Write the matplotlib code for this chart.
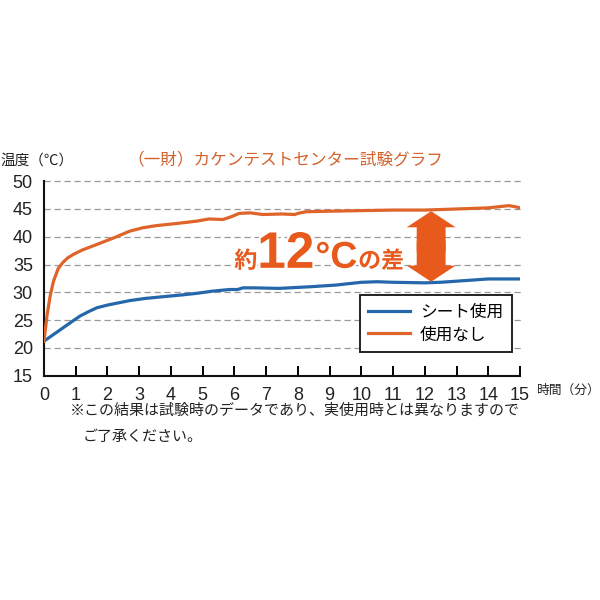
import matplotlib.pyplot as plt
import matplotlib.patheffects as pe
from matplotlib.patches import FancyArrow

plt.rcParams['font.family'] = ['Noto Sans CJK JP', 'DejaVu Sans']

# 使用なし (orange)
t_nashi = [0, 0.1, 0.2, 0.3, 0.45, 0.6, 0.75, 0.92, 1.2, 1.66, 2.2, 2.7, 3.1, 3.54,
           4.2, 4.8, 5.2, 5.63, 5.9, 6.15, 6.5, 6.9, 7.5, 7.9, 8.0, 8.25, 9, 10,
           11, 12, 13, 14, 14.65, 14.85, 15]
temp_nashi = [21.2, 26.0, 29.5, 32.0, 34.3, 35.4, 36.2, 36.8, 37.6, 38.6, 39.8, 41.0,
              41.6, 42.0, 42.4, 42.8, 43.2, 43.1, 43.6, 44.2, 44.3, 44.0, 44.1, 44.0,
              44.2, 44.5, 44.6, 44.7, 44.8, 44.8, 45.0, 45.2, 45.6, 45.4, 45.2]

# シート使用 (blue)
t_sheet = [0, 0.3, 0.6, 0.9, 1.13, 1.4, 1.66, 2.0, 2.7, 3.2, 3.75, 4.3, 4.8, 5.3,
           5.85, 6.1, 6.27, 6.6, 7.4, 8.4, 9.2, 10, 10.5, 11, 12, 12.5, 13, 13.5,
           14, 14.8, 15]
temp_sheet = [21.2, 22.4, 23.6, 24.8, 25.7, 26.5, 27.2, 27.7, 28.5, 28.9, 29.2, 29.5,
              29.8, 30.2, 30.5, 30.5, 30.8, 30.8, 30.7, 31.0, 31.3, 31.8, 31.9, 31.8,
              31.7, 31.8, 32.0, 32.2, 32.4, 32.4, 32.4]

xticks = list(range(0, 16))
yticks = [15, 20, 25, 30, 35, 40, 45, 50]

# 差の矢印
arrow_x = 12.2
arrow_lo = 31.9
arrow_hi = 44.6

orange = '#df6429'
blue = '#2467ab'
big_orange = '#e85a1c'

fig = plt.figure(figsize=(6, 6), dpi=100)
ax = fig.add_axes([0.0733, 0.374, 0.7934, 0.324])

for y in yticks[1:]:
    ax.plot([0, 15.05], [y, y], color='#9a9a9a', lw=0.9, ls=(0, (5, 3)), zorder=1,
            clip_on=False)

ax.plot(t_sheet, temp_sheet, color=blue, lw=2.3, label='シート使用', zorder=3)
ax.plot(t_nashi, temp_nashi, color=orange, lw=2.3, label='使用なし', zorder=3)

ax.set_xlim(0, 15)
ax.set_ylim(15, 50)
ax.set_xticks(xticks)
ax.set_yticks(yticks)
ax.tick_params(axis='x', direction='in', length=7, width=1.4, pad=8, labelsize=13)
ax.tick_params(axis='y', length=0, pad=8, labelsize=13)
for lab in ax.get_xticklabels() + ax.get_yticklabels():
    lab.set_family(['Liberation Sans', 'DejaVu Sans'])
    lab.set_color('#222222')
for s in ['top', 'right']:
    ax.spines[s].set_visible(False)
for s in ['left', 'bottom']:
    ax.spines[s].set_linewidth(1.5)
    ax.spines[s].set_color('#111111')

# 矢印 (上下) - 2本を中央で重ねる
mid = (arrow_lo + arrow_hi) / 2
ax.add_patch(FancyArrow(arrow_x, mid - 1, 0, arrow_hi - mid + 1, width=0.91,
                        head_width=1.54, head_length=2.9, length_includes_head=True,
                        color=big_orange, lw=0, zorder=4))
ax.add_patch(FancyArrow(arrow_x, mid + 1, 0, arrow_lo - mid - 1, width=0.91,
                        head_width=1.54, head_length=2.9, length_includes_head=True,
                        color=big_orange, lw=0, zorder=4))

stroke = [pe.withStroke(linewidth=3, foreground='white')]
ax.text(6.0, 34.4, '約', fontsize=16.5, fontweight='bold', color=big_orange,
        path_effects=stroke, zorder=5)
ax.text(6.72, 34.4, '12', fontsize=37, fontweight='bold', color=big_orange,
        family='Liberation Sans', path_effects=stroke, zorder=5)
ax.text(8.55, 34.4, '°C', fontsize=27, fontweight='bold', color=big_orange,
        family='Liberation Sans', path_effects=stroke, zorder=5)
ax.text(9.9, 34.4, 'の差', fontsize=16.5, fontweight='bold', color=big_orange,
        path_effects=stroke, zorder=5)

leg = ax.legend(loc='upper left', bbox_to_anchor=(0.664, 0.414), fontsize=12,
                frameon=True, fancybox=False, handlelength=2.5, handletextpad=0.6,
                borderpad=0.5, labelspacing=0.35, borderaxespad=0)
leg.get_frame().set_edgecolor('#222222')
leg.get_frame().set_linewidth(1.4)
leg.get_frame().set_alpha(1)
leg.set_zorder(6)

fig.text(0.0, 0.733, '温度（℃）', fontsize=10.5, color='#222222', va='center')
fig.text(0.213, 0.733, '（一財）カケンテストセンター試験グラフ', fontsize=12,
         color='#d2622c', va='center')
fig.text(0.893, 0.35, '時間（分）', fontsize=9.2, color='#222222', va='center')
fig.text(0.117, 0.316, '※この結果は試験時のデータであり、実使用時とは異なりますので',
         fontsize=10.8, color='#222222', va='center')
fig.text(0.138, 0.271, 'ご了承ください。', fontsize=10.8, color='#222222', va='center')

fig.savefig('out.png', dpi=100, facecolor='white')
